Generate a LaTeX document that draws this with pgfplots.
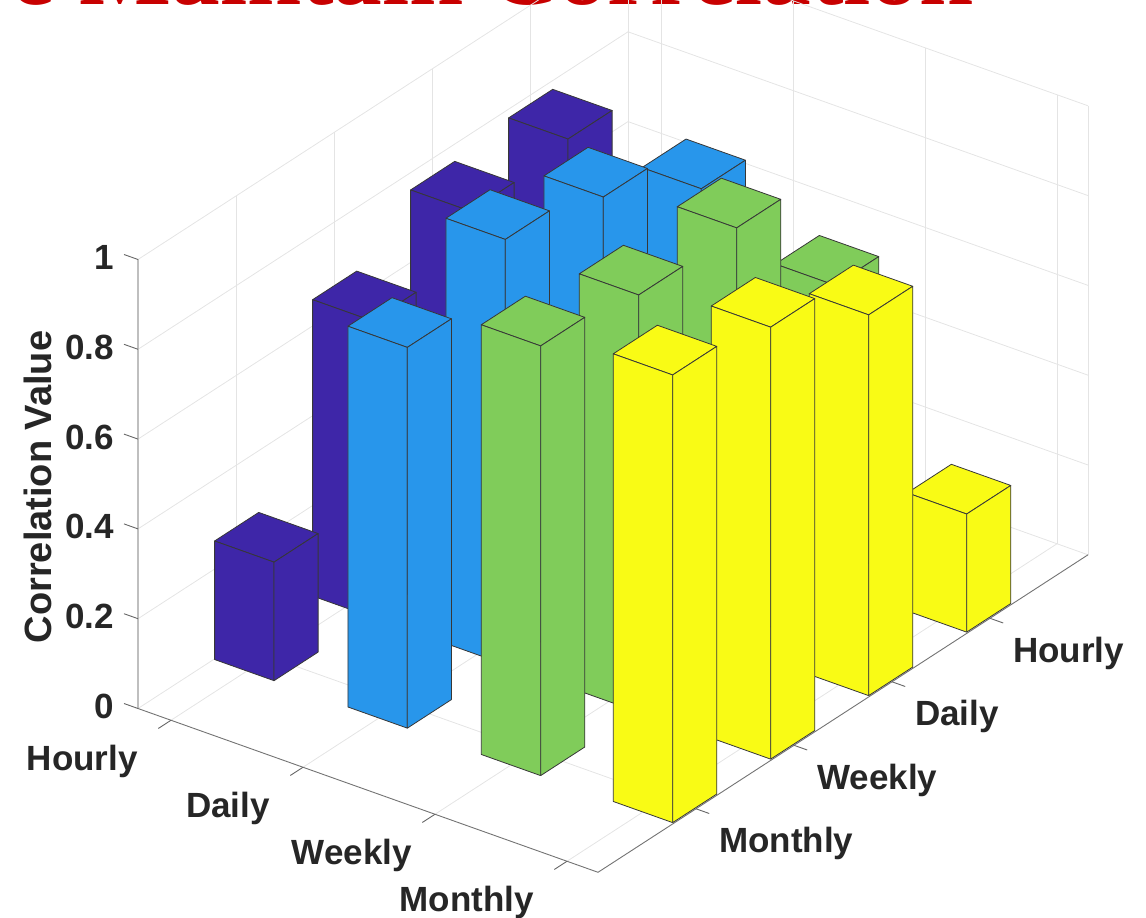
\documentclass[border=0pt]{standalone}
\usepackage{pgfplots}
\pgfplotsset{compat=1.18}
\usepackage{fontspec}
\setmainfont{Liberation Sans}
\newfontfamily\titlefont{Liberation Serif}
\definecolor{barA}{RGB}{62,38,168}
\definecolor{barB}{RGB}{40,150,235}
\definecolor{barC}{RGB}{128,204,90}
\definecolor{barD}{RGB}{249,251,21}
\definecolor{edgecol}{RGB}{55,55,55}
\definecolor{labelcol}{RGB}{38,38,38}
\definecolor{titlecol}{RGB}{200,0,0}
\definecolor{wallcol}{RGB}{228,228,228}

% One bar: position along x, position along y, height, colour.
\newcommand{\column}[4]{%
  \pgfmathsetmacro\xa{#1-0.225}\pgfmathsetmacro\xb{#1+0.225}%
  \pgfmathsetmacro\ya{#2-0.225}\pgfmathsetmacro\yb{#2+0.225}%
  \addplot3[fill=#4,draw=edgecol,line width=0.8pt,no markers,line join=round] coordinates {(\xa,\ya,#3) (\xb,\ya,#3) (\xb,\yb,#3) (\xa,\yb,#3)} --cycle;
  \addplot3[fill=#4,draw=edgecol,line width=0.8pt,no markers,line join=round] coordinates {(\xa,\ya,0) (\xb,\ya,0) (\xb,\ya,#3) (\xa,\ya,#3)} --cycle;
  \addplot3[fill=#4,draw=edgecol,line width=0.8pt,no markers,line join=round] coordinates {(\xb,\ya,0) (\xb,\yb,0) (\xb,\yb,#3) (\xb,\ya,#3)} --cycle;
}
% A straight segment in axis coordinates, used for box edges and tick stubs.
\newcommand{\seg}[3]{\addplot3[#1,no markers] coordinates {#2 #3};}

\begin{document}
\begin{tikzpicture}[x=1pt,y=1pt]
\useasboundingbox (0,0) rectangle (1146,918);
\clip (0,0) rectangle (1146,918);
\node[anchor=base east,text=titlecol,inner sep=0pt,font=\titlefont\bfseries\fontsize{97.5}{97.5}\selectfont] at (974,913.5) {e Maintain Correlation};
\node[rotate=90,text=labelcol,font=\bfseries\fontsize{38}{38}\selectfont] at (38,431) {Correlation Value};
\begin{axis}[
  at={(138pt,45.7pt)},anchor=south west,
  x={(132pt,-47pt)},y={(98pt,63.5pt)},z={(0pt,449pt)},
  xmin=0.75,xmax=4.235,ymin=0,ymax=5,zmin=0,zmax=1,
  clip=false,
  xtick={1,2,3,4},xticklabels={Hourly,Daily,Weekly\hspace*{-10pt},Monthly},
  ytick={1,2,3,4},yticklabels={Monthly,Weekly,Daily,Hourly},
  ztick={0,0.2,0.4,0.6,0.8,1},zticklabels={0,0.2,0.4,0.6,0.8,1},
  grid=major,
  grid style={draw=wallcol,line width=0.8pt},
  axis line style={draw=none},
  tick style={draw=none},
  major tick length=0pt,
  /pgf/number format/assume math mode=true,
  ticklabel style={font=\bfseries\fontsize{35}{35}\selectfont,text=labelcol,inner sep=0pt},
  xticklabel style={anchor=east,xshift=-33pt,yshift=-41pt},
  yticklabel style={anchor=west,xshift=23pt,yshift=-35pt},
  zticklabel style={anchor=east,xshift=-24pt,yshift=2pt},
]
% box edges
\seg{draw=black!25,line width=1.4pt}{(0.75,0,0)}{(0.75,0,1)}
\seg{draw=wallcol,line width=0.8pt}{(0.75,5,0)}{(0.75,5,1)}
\seg{draw=wallcol,line width=0.8pt}{(4.235,5,0)}{(4.235,5,1)}
\seg{draw=black!55,line width=0.9pt}{(0.75,0,0)}{(4.235,0,0)}
\seg{draw=black!55,line width=0.9pt}{(4.235,0,0)}{(4.235,5,0)}
% tick stubs
\seg{draw=black!60,line width=0.9pt}{(1,0,0)}{(1,-0.13,0)}
\seg{draw=black!60,line width=0.9pt}{(2,0,0)}{(2,-0.13,0)}
\seg{draw=black!60,line width=0.9pt}{(3,0,0)}{(3,-0.13,0)}
\seg{draw=black!60,line width=0.9pt}{(4,0,0)}{(4,-0.13,0)}
\seg{draw=black!60,line width=0.9pt}{(4.235,1,0)}{(4.335,1,0)}
\seg{draw=black!60,line width=0.9pt}{(4.235,2,0)}{(4.335,2,0)}
\seg{draw=black!60,line width=0.9pt}{(4.235,3,0)}{(4.335,3,0)}
\seg{draw=black!60,line width=0.9pt}{(4.235,4,0)}{(4.335,4,0)}
\seg{draw=black!60,line width=0.9pt}{(0.75,0,0)}{(0.644,0,0)}
\seg{draw=black!60,line width=0.9pt}{(0.75,0,0.2)}{(0.644,0,0.2)}
\seg{draw=black!60,line width=0.9pt}{(0.75,0,0.4)}{(0.644,0,0.4)}
\seg{draw=black!60,line width=0.9pt}{(0.75,0,0.6)}{(0.644,0,0.6)}
\seg{draw=black!60,line width=0.9pt}{(0.75,0,0.8)}{(0.644,0,0.8)}
\seg{draw=black!60,line width=0.9pt}{(0.75,0,1)}{(0.644,0,1)}
% bars, back to front
\column{0.98}{4}{0.782}{barA}
\column{0.98}{3}{0.763}{barA}
\column{0.98}{2}{0.660}{barA}
\column{0.98}{1}{0.264}{barA}
\column{1.99}{4}{0.777}{barB}
\column{1.99}{3}{0.900}{barB}
\column{1.99}{2}{0.947}{barB}
\column{1.99}{1}{0.848}{barB}
\column{3}{4}{0.668}{barC}
\column{3}{3}{0.937}{barC}
\column{3}{2}{0.929}{barC}
\column{3}{1}{0.957}{barC}
\column{4}{4}{0.263}{barD}
\column{4}{3}{0.848}{barD}
\column{4}{2}{0.962}{barD}
\column{4}{1}{0.997}{barD}
\end{axis}
\end{tikzpicture}
\end{document}
